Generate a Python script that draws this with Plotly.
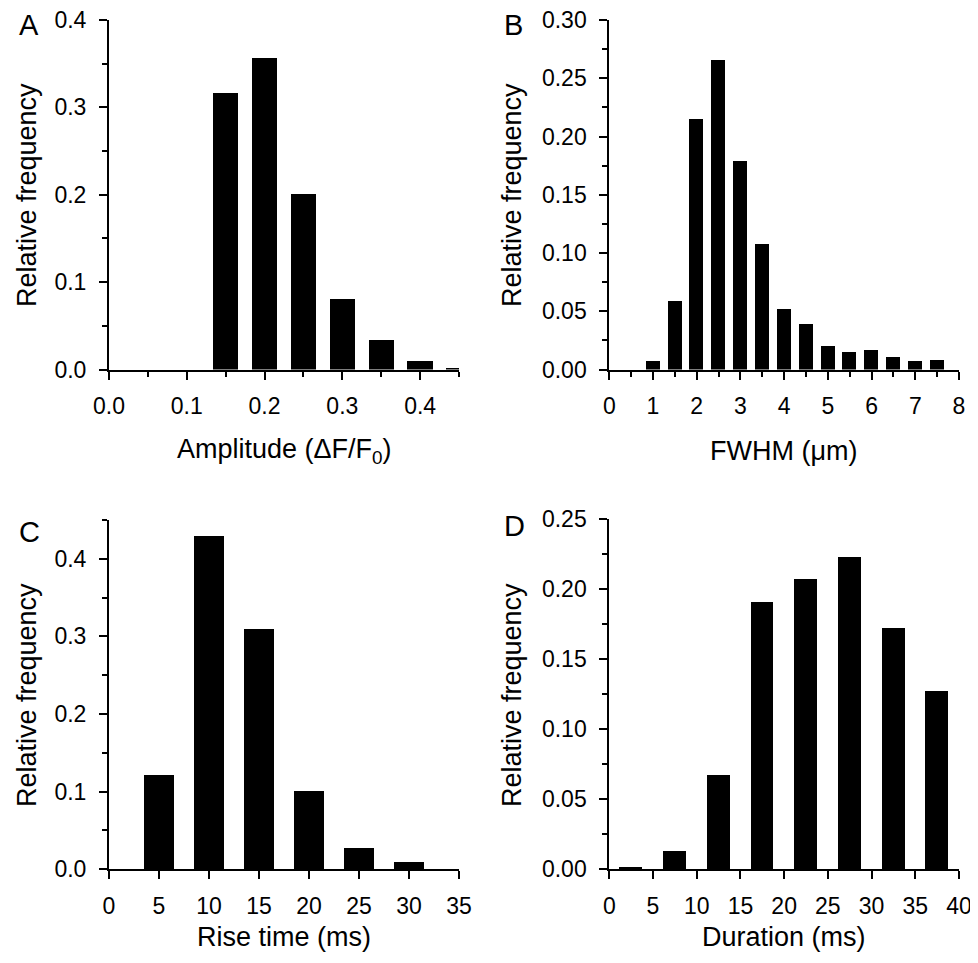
import plotly.graph_objects as go

# The page body has an 8 px default margin; the figure is sized to fill the rest of the window.
OFF = 8
W, H = 978 - OFF, 963 - OFF

# ---- Data ----
amp_bins = [0.05, 0.10, 0.15, 0.20, 0.25, 0.30, 0.35, 0.40, 0.45]
amp_freq = [0.0, 0.0, 0.317, 0.356, 0.201, 0.081, 0.034, 0.010, 0.002]

fwhm_bins = [0.5, 1.0, 1.5, 2.0, 2.5, 3.0, 3.5, 4.0, 4.5, 5.0, 5.5, 6.0, 6.5, 7.0, 7.5]
fwhm_freq = [0.0, 0.007, 0.059, 0.215, 0.266, 0.179, 0.108, 0.052, 0.039, 0.020, 0.015, 0.017, 0.011, 0.007, 0.008]

rise_bins = [5, 10, 15, 20, 25, 30]
rise_freq = [0.121, 0.430, 0.309, 0.101, 0.027, 0.010]

dur_bins = [2.5, 7.5, 12.5, 17.5, 22.5, 27.5, 32.5, 37.5]
dur_freq = [0.0012, 0.013, 0.067, 0.191, 0.207, 0.223, 0.172, 0.127]

FONT = "Liberation Sans, Arial, sans-serif"
TICK_SIZE = 23


def px_x(x):
    return (x - OFF) / W


def px_y(y):
    return 1 - (y - OFF) / H


fig = go.Figure()

panels = [
    dict(x=amp_bins, y=amp_freq, w=0.0326, xd=(109, 459), yd=(20, 369.5), xr=[0, 0.45], yr=[0, 0.4],
         xdt=0.1, xmin=0.05, ydt=0.1, ymin=0.05, xfmt=".1f", yfmt=".1f"),
    dict(x=fwhm_bins, y=fwhm_freq, w=0.32, xd=(609.3, 959), yd=(20, 369.5), xr=[0, 8], yr=[0, 0.30],
         xdt=1, xmin=0.5, ydt=0.05, ymin=0.025, xfmt="d", yfmt=".2f"),
    dict(x=rise_bins, y=rise_freq, w=3.07, xd=(109, 459), yd=(520, 869.3), xr=[0, 35], yr=[0, 0.45],
         xdt=5, xmin=None, ydt=0.1, ymin=0.05, xfmt="d", yfmt=".1f"),
    dict(x=dur_bins, y=dur_freq, w=2.6, xd=(609.3, 959), yd=(519.3, 869.3), xr=[0, 40], yr=[0, 0.25],
         xdt=5, xmin=None, ydt=0.05, ymin=0.025, xfmt="d", yfmt=".2f"),
]

layout_axes = {}
for i, p in enumerate(panels):
    n = "" if i == 0 else str(i + 1)
    fig.add_trace(go.Bar(x=p["x"], y=p["y"], width=p["w"], marker=dict(color="black", line=dict(width=0)),
                         xaxis="x" + n, yaxis="y" + n, showlegend=False))
    xa = dict(domain=[px_x(p["xd"][0]), px_x(p["xd"][1])], range=p["xr"], anchor="y" + n,
              showline=True, linecolor="black", linewidth=2, ticks="outside", ticklen=8, tickwidth=2,
              tickcolor="black", dtick=p["xdt"], tick0=0, showgrid=False, zeroline=False,
              tickformat=p["xfmt"], tickfont=dict(family=FONT, size=TICK_SIZE, color="black"),
              ticklabelstandoff=7, ticklabeloverflow="allow", fixedrange=True, automargin=False)
    if p["xmin"]:
        xa["minor"] = dict(ticks="outside", ticklen=5, tickwidth=2, tickcolor="black", dtick=p["xmin"], tick0=0,
                           showgrid=False)
    ya = dict(domain=[px_y(p["yd"][1]), px_y(p["yd"][0])], range=p["yr"], anchor="x" + n,
              showline=True, linecolor="black", linewidth=2, ticks="outside", ticklen=8, tickwidth=2,
              tickcolor="black", dtick=p["ydt"], tick0=0, showgrid=False, zeroline=False,
              tickformat=p["yfmt"], tickfont=dict(family=FONT, size=TICK_SIZE, color="black"),
              ticklabelstandoff=8, ticklabeloverflow="allow", fixedrange=True, automargin=False,
              minor=dict(ticks="outside", ticklen=5, tickwidth=2, tickcolor="black", dtick=p["ymin"], tick0=0,
                         showgrid=False))
    layout_axes["xaxis" + n] = xa
    layout_axes["yaxis" + n] = ya

annotations = []
# panel letters
for txt, x, y in [("A", 29, 25), ("B", 513, 25), ("C", 29, 532), ("D", 514, 526)]:
    annotations.append(dict(text=txt, x=px_x(x), y=px_y(y), xref="paper", yref="paper", showarrow=False,
                            xanchor="center", yanchor="middle", font=dict(family=FONT, size=29, color="black")))
# x titles
for txt, x, y in [("Amplitude (ΔF/F<sub>0</sub>)", 284, 451), ("FWHM (μm)", 784, 451),
                  ("Rise time (ms)", 284, 937), ("Duration (ms)", 784, 937)]:
    annotations.append(dict(text=txt, x=px_x(x), y=px_y(y), xref="paper", yref="paper", showarrow=False,
                            xanchor="center", yanchor="middle", font=dict(family=FONT, size=27, color="black")))
# y titles
for x, y in [(27, 195), (512, 195), (27, 695), (512, 695)]:
    annotations.append(dict(text="Relative frequency", x=px_x(x), y=px_y(y), xref="paper", yref="paper",
                            showarrow=False, textangle=-90, xanchor="center", yanchor="middle",
                            font=dict(family=FONT, size=27, color="black")))

fig.update_layout(width=W, height=H, autosize=False, margin=dict(l=0, r=0, t=0, b=0, autoexpand=False),
                  paper_bgcolor="white", plot_bgcolor="white", bargap=0,
                  annotations=annotations, **layout_axes)

fig.write_html("out.html")
